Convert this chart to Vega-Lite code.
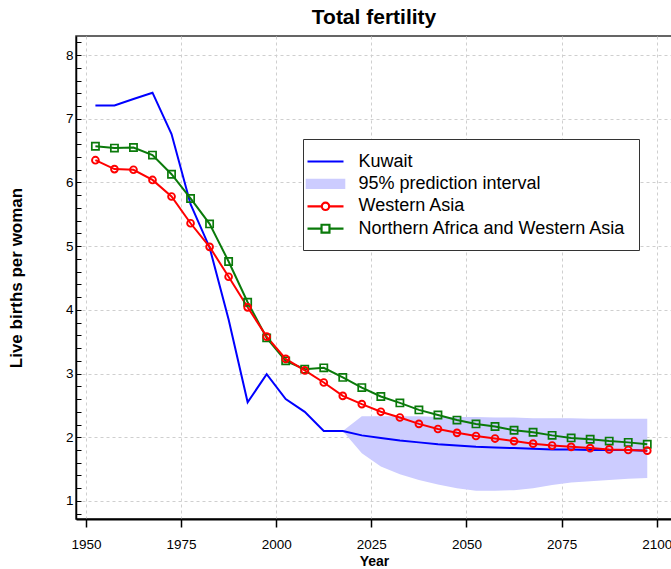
{
  "$schema": "https://vega.github.io/schema/vega-lite/v6.json",
  "width": 596,
  "height": 483,
  "autosize": "none",
  "padding": {"left": 76, "top": 36, "right": 0, "bottom": 50},
  "title": {"text": "Total fertility", "fontSize": 21, "fontWeight": "bold", "font": "Liberation Sans", "color": "#000", "anchor": "middle", "offset": 7},
  "datasets": {
    "band": [
      {"year": 2017.5, "lo": 2.10, "hi": 2.10},
      {"year": 2022.5, "lo": 1.75, "hi": 2.33},
      {"year": 2027.5, "lo": 1.54, "hi": 2.33},
      {"year": 2032.5, "lo": 1.42, "hi": 2.33},
      {"year": 2037.5, "lo": 1.33, "hi": 2.33},
      {"year": 2042.5, "lo": 1.26, "hi": 2.32},
      {"year": 2047.5, "lo": 1.20, "hi": 2.32},
      {"year": 2052.5, "lo": 1.16, "hi": 2.32},
      {"year": 2057.5, "lo": 1.16, "hi": 2.31},
      {"year": 2062.5, "lo": 1.17, "hi": 2.31},
      {"year": 2067.5, "lo": 1.20, "hi": 2.30},
      {"year": 2072.5, "lo": 1.25, "hi": 2.30},
      {"year": 2077.5, "lo": 1.29, "hi": 2.30},
      {"year": 2082.5, "lo": 1.31, "hi": 2.29},
      {"year": 2087.5, "lo": 1.33, "hi": 2.29},
      {"year": 2092.5, "lo": 1.35, "hi": 2.29},
      {"year": 2097.5, "lo": 1.36, "hi": 2.29}
    ],
    "lines": [
      {"series": "Kuwait", "year": 1952.5, "tfr": 7.21},
      {"series": "Kuwait", "year": 1957.5, "tfr": 7.21},
      {"series": "Kuwait", "year": 1962.5, "tfr": 7.31},
      {"series": "Kuwait", "year": 1967.5, "tfr": 7.41},
      {"series": "Kuwait", "year": 1972.5, "tfr": 6.76},
      {"series": "Kuwait", "year": 1977.5, "tfr": 5.66},
      {"series": "Kuwait", "year": 1982.5, "tfr": 4.98},
      {"series": "Kuwait", "year": 1987.5, "tfr": 3.85},
      {"series": "Kuwait", "year": 1992.5, "tfr": 2.55},
      {"series": "Kuwait", "year": 1997.5, "tfr": 2.99},
      {"series": "Kuwait", "year": 2002.5, "tfr": 2.60},
      {"series": "Kuwait", "year": 2007.5, "tfr": 2.40},
      {"series": "Kuwait", "year": 2012.5, "tfr": 2.10},
      {"series": "Kuwait", "year": 2017.5, "tfr": 2.10},
      {"series": "Kuwait", "year": 2022.5, "tfr": 2.03},
      {"series": "Kuwait", "year": 2027.5, "tfr": 1.99},
      {"series": "Kuwait", "year": 2032.5, "tfr": 1.95},
      {"series": "Kuwait", "year": 2037.5, "tfr": 1.92},
      {"series": "Kuwait", "year": 2042.5, "tfr": 1.89},
      {"series": "Kuwait", "year": 2047.5, "tfr": 1.87},
      {"series": "Kuwait", "year": 2052.5, "tfr": 1.85},
      {"series": "Kuwait", "year": 2057.5, "tfr": 1.84},
      {"series": "Kuwait", "year": 2062.5, "tfr": 1.83},
      {"series": "Kuwait", "year": 2067.5, "tfr": 1.82},
      {"series": "Kuwait", "year": 2072.5, "tfr": 1.81},
      {"series": "Kuwait", "year": 2077.5, "tfr": 1.81},
      {"series": "Kuwait", "year": 2082.5, "tfr": 1.80},
      {"series": "Kuwait", "year": 2087.5, "tfr": 1.80},
      {"series": "Kuwait", "year": 2092.5, "tfr": 1.80},
      {"series": "Kuwait", "year": 2097.5, "tfr": 1.79},
      {"series": "Northern Africa and Western Asia", "year": 1952.5, "tfr": 6.57},
      {"series": "Northern Africa and Western Asia", "year": 1957.5, "tfr": 6.54},
      {"series": "Northern Africa and Western Asia", "year": 1962.5, "tfr": 6.55},
      {"series": "Northern Africa and Western Asia", "year": 1967.5, "tfr": 6.43},
      {"series": "Northern Africa and Western Asia", "year": 1972.5, "tfr": 6.13},
      {"series": "Northern Africa and Western Asia", "year": 1977.5, "tfr": 5.75},
      {"series": "Northern Africa and Western Asia", "year": 1982.5, "tfr": 5.35},
      {"series": "Northern Africa and Western Asia", "year": 1987.5, "tfr": 4.76},
      {"series": "Northern Africa and Western Asia", "year": 1992.5, "tfr": 4.12},
      {"series": "Northern Africa and Western Asia", "year": 1997.5, "tfr": 3.56},
      {"series": "Northern Africa and Western Asia", "year": 2002.5, "tfr": 3.20},
      {"series": "Northern Africa and Western Asia", "year": 2007.5, "tfr": 3.07},
      {"series": "Northern Africa and Western Asia", "year": 2012.5, "tfr": 3.09},
      {"series": "Northern Africa and Western Asia", "year": 2017.5, "tfr": 2.94},
      {"series": "Northern Africa and Western Asia", "year": 2022.5, "tfr": 2.78},
      {"series": "Northern Africa and Western Asia", "year": 2027.5, "tfr": 2.64},
      {"series": "Northern Africa and Western Asia", "year": 2032.5, "tfr": 2.54},
      {"series": "Northern Africa and Western Asia", "year": 2037.5, "tfr": 2.43},
      {"series": "Northern Africa and Western Asia", "year": 2042.5, "tfr": 2.35},
      {"series": "Northern Africa and Western Asia", "year": 2047.5, "tfr": 2.27},
      {"series": "Northern Africa and Western Asia", "year": 2052.5, "tfr": 2.21},
      {"series": "Northern Africa and Western Asia", "year": 2057.5, "tfr": 2.17},
      {"series": "Northern Africa and Western Asia", "year": 2062.5, "tfr": 2.11},
      {"series": "Northern Africa and Western Asia", "year": 2067.5, "tfr": 2.08},
      {"series": "Northern Africa and Western Asia", "year": 2072.5, "tfr": 2.03},
      {"series": "Northern Africa and Western Asia", "year": 2077.5, "tfr": 1.99},
      {"series": "Northern Africa and Western Asia", "year": 2082.5, "tfr": 1.97},
      {"series": "Northern Africa and Western Asia", "year": 2087.5, "tfr": 1.94},
      {"series": "Northern Africa and Western Asia", "year": 2092.5, "tfr": 1.92},
      {"series": "Northern Africa and Western Asia", "year": 2097.5, "tfr": 1.89},
      {"series": "Western Asia", "year": 1952.5, "tfr": 6.35},
      {"series": "Western Asia", "year": 1957.5, "tfr": 6.21},
      {"series": "Western Asia", "year": 1962.5, "tfr": 6.20},
      {"series": "Western Asia", "year": 1967.5, "tfr": 6.04},
      {"series": "Western Asia", "year": 1972.5, "tfr": 5.78},
      {"series": "Western Asia", "year": 1977.5, "tfr": 5.36},
      {"series": "Western Asia", "year": 1982.5, "tfr": 4.99},
      {"series": "Western Asia", "year": 1987.5, "tfr": 4.52},
      {"series": "Western Asia", "year": 1992.5, "tfr": 4.04},
      {"series": "Western Asia", "year": 1997.5, "tfr": 3.58},
      {"series": "Western Asia", "year": 2002.5, "tfr": 3.23},
      {"series": "Western Asia", "year": 2007.5, "tfr": 3.05},
      {"series": "Western Asia", "year": 2012.5, "tfr": 2.86},
      {"series": "Western Asia", "year": 2017.5, "tfr": 2.65},
      {"series": "Western Asia", "year": 2022.5, "tfr": 2.52},
      {"series": "Western Asia", "year": 2027.5, "tfr": 2.40},
      {"series": "Western Asia", "year": 2032.5, "tfr": 2.31},
      {"series": "Western Asia", "year": 2037.5, "tfr": 2.21},
      {"series": "Western Asia", "year": 2042.5, "tfr": 2.13},
      {"series": "Western Asia", "year": 2047.5, "tfr": 2.07},
      {"series": "Western Asia", "year": 2052.5, "tfr": 2.02},
      {"series": "Western Asia", "year": 2057.5, "tfr": 1.98},
      {"series": "Western Asia", "year": 2062.5, "tfr": 1.94},
      {"series": "Western Asia", "year": 2067.5, "tfr": 1.90},
      {"series": "Western Asia", "year": 2072.5, "tfr": 1.87},
      {"series": "Western Asia", "year": 2077.5, "tfr": 1.85},
      {"series": "Western Asia", "year": 2082.5, "tfr": 1.83},
      {"series": "Western Asia", "year": 2087.5, "tfr": 1.81},
      {"series": "Western Asia", "year": 2092.5, "tfr": 1.80},
      {"series": "Western Asia", "year": 2097.5, "tfr": 1.79}
    ]
  },
  "encoding": {
    "x": {"field": "year", "type": "quantitative",
      "scale": {"domain": [1947.4, 2104], "nice": false, "zero": false},
      "axis": {"title": "Year", "values": [1950, 1975, 2000, 2025, 2050, 2075, 2100], "format": "d",
        "labelFontSize": 13.5, "labelColor": "#000", "labelPadding": 10, "labelFlush": false, "labelOverlap": false,
        "tickSize": 8, "tickColor": "#000", "tickWidth": 1.5,
        "domainColor": "#000", "domainWidth": 2,
        "grid": true, "gridColor": "#cfcfcf", "gridDash": [3, 3], "gridWidth": 1,
        "titleFontSize": 14, "titleFontWeight": "bold", "titleColor": "#000", "titlePadding": 4}},
    "y": {"field": "tfr", "type": "quantitative",
      "scale": {"domain": [0.717, 8.3], "nice": false, "zero": false},
      "axis": {"title": "Live births per woman",
        "values": [0.8, 1, 1.2, 1.4, 1.6, 1.8, 2, 2.2, 2.4, 2.6, 2.8, 3, 3.2, 3.4, 3.6, 3.8, 4, 4.2, 4.4, 4.6, 4.8, 5, 5.2, 5.4, 5.6, 5.8, 6, 6.2, 6.4, 6.6, 6.8, 7, 7.2, 7.4, 7.6, 7.8, 8, 8.2],
        "labelExpr": "datum.value % 1 === 0 ? format(datum.value, 'd') : ''",
        "labelFontSize": 13.5, "labelColor": "#000", "labelPadding": 8, "labelOverlap": false, "labelFlush": false,
        "tickSize": -5, "tickColor": "#000", "tickWidth": 1,
        "domainColor": "#000", "domainWidth": 1.5,
        "grid": true,
        "gridColor": {"condition": {"test": "datum.value % 1 === 0", "value": "#cfcfcf"}, "value": "rgba(0,0,0,0)"},
        "gridDash": [3, 3], "gridWidth": 1,
        "titleFontSize": 17, "titleFontWeight": "bold", "titleColor": "#000", "titlePadding": 40}},
    "color": {"field": "series", "type": "nominal",
      "scale": {"domain": ["Kuwait", "95% prediction interval", "Western Asia", "Northern Africa and Western Asia"],
                "range": ["#0000ff", "#ccccff", "#ff0000", "#0a7a0a"]},
      "legend": {
        "title": null,
        "orient": "none", "legendX": 227, "legendY": 103, "direction": "vertical",
        "labelFontSize": 18, "labelColor": "#000", "labelFont": "Liberation Sans", "labelLimit": 400,
        "symbolSize": 324, "labelOffset": 22.5, "rowPadding": 2.4, "padding": 12,
        "strokeColor": "#333", "fillColor": "#ffffff",
        "symbolStrokeWidth": 2.2, "symbolOpacity": 1, "symbolFillColor": "rgba(0,0,0,0)"
      }}
  },
  "layer": [
    {
      "data": {"name": "band"},
      "mark": {"type": "area", "opacity": 1},
      "encoding": {
        "y": {"field": "lo", "type": "quantitative",
          "scale": {"domain": [0.717, 8.3], "nice": false, "zero": false},
          "axis": {"title": "Live births per woman",
            "values": [0.8, 1, 1.2, 1.4, 1.6, 1.8, 2, 2.2, 2.4, 2.6, 2.8, 3, 3.2, 3.4, 3.6, 3.8, 4, 4.2, 4.4, 4.6, 4.8, 5, 5.2, 5.4, 5.6, 5.8, 6, 6.2, 6.4, 6.6, 6.8, 7, 7.2, 7.4, 7.6, 7.8, 8, 8.2],
            "labelExpr": "datum.value % 1 === 0 ? format(datum.value, 'd') : ''",
            "labelFontSize": 13.5, "labelColor": "#000", "labelPadding": 8, "labelOverlap": false, "labelFlush": false,
            "tickSize": -5, "tickColor": "#000", "tickWidth": 1,
            "domainColor": "#000", "domainWidth": 1.5,
            "grid": true,
            "gridColor": {"condition": {"test": "datum.value % 1 === 0", "value": "#cfcfcf"}, "value": "rgba(0,0,0,0)"},
            "gridDash": [3, 3], "gridWidth": 1,
            "titleFontSize": 17, "titleFontWeight": "bold", "titleColor": "#000", "titlePadding": 40}},
        "y2": {"field": "hi"},
        "color": {"value": "#ccccff"}
      }
    },
    {
      "data": {"name": "lines"},
      "mark": {"type": "line", "strokeWidth": 2}
    },
    {
      "data": {"name": "lines"},
      "mark": {"type": "point", "filled": false, "opacity": 0},
      "encoding": {
        "shape": {"field": "series", "type": "nominal",
          "scale": {"domain": ["Kuwait", "95% prediction interval", "Western Asia", "Northern Africa and Western Asia"],
                    "range": [
                      "M-2,0H2",
                      "M-2.2,-0.44H2.2M-2.2,-0.22H2.2M-2.2,0H2.2M-2.2,0.22H2.2M-2.2,0.44H2.2",
                      "M-2,0H-0.41M0.41,0H2M-0.41,0A0.41,0.41,0,1,1,0.41,0A0.41,0.41,0,1,1,-0.41,0",
                      "M-2,0H-0.44M0.44,0H2M-0.44,-0.44H0.44V0.44H-0.44Z"
                    ]},
          "legend": {
            "title": null,
            "orient": "none", "legendX": 227, "legendY": 103, "direction": "vertical",
            "labelFontSize": 18, "labelColor": "#000", "labelFont": "Liberation Sans", "labelLimit": 400,
            "symbolSize": 324, "labelOffset": 22.5, "rowPadding": 2.4, "padding": 12,
            "strokeColor": "#333", "fillColor": "#ffffff",
            "symbolStrokeWidth": 2.2, "symbolOpacity": 1, "symbolFillColor": "rgba(0,0,0,0)"
          }}
      }
    },
    {
      "data": {"name": "lines"},
      "transform": [{"filter": "datum.series === 'Northern Africa and Western Asia'"}],
      "mark": {"type": "point", "shape": "square", "filled": false, "size": 52, "strokeWidth": 1.7, "opacity": 1}
    },
    {
      "data": {"name": "lines"},
      "transform": [{"filter": "datum.series === 'Western Asia'"}],
      "mark": {"type": "point", "shape": "circle", "filled": false, "size": 46, "strokeWidth": 1.9, "opacity": 1}
    }
  ],
  "config": {
    "font": "Liberation Sans",
    "view": {"stroke": "#333", "strokeWidth": 1.5},
    "background": "#ffffff"
  }
}
